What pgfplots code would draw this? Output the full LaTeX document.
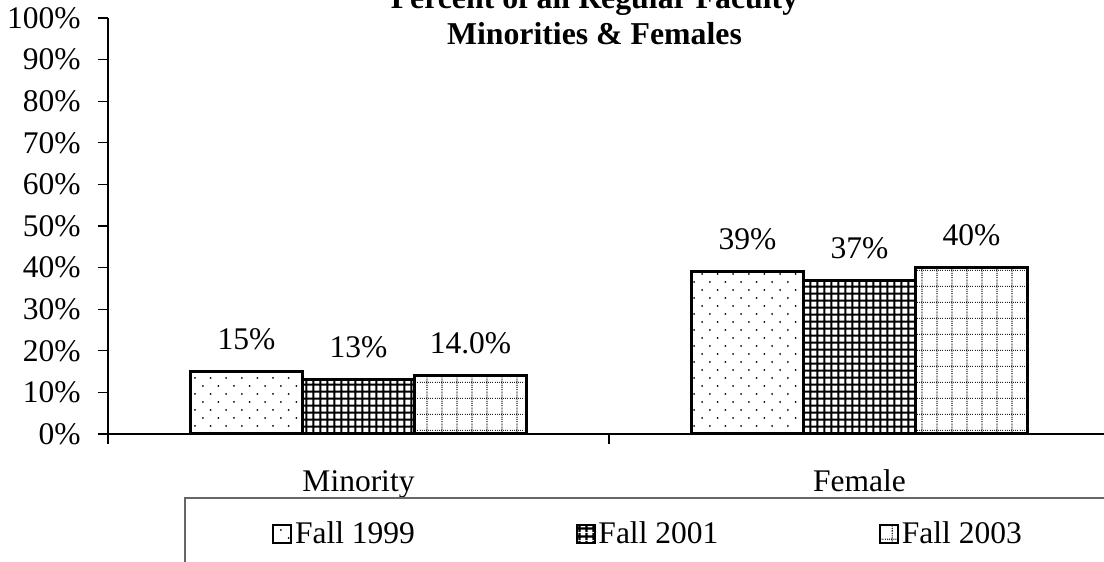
\documentclass[border=0pt]{standalone}
\usepackage{pgfplots}
\pgfplotsset{compat=1.18}
\usepackage{fontspec}
\setmainfont{Liberation Serif}
\usetikzlibrary{patterns}

\pgfdeclarepatternformonly{sparsedots}{\pgfqpoint{-1pt}{-1pt}}{\pgfqpoint{8.8pt}{9pt}}{\pgfqpoint{7.8pt}{8pt}}{%
  \pgfpathcircle{\pgfqpoint{0pt}{0pt}}{0.5pt}%
  \pgfpathcircle{\pgfqpoint{3.9pt}{4pt}}{0.5pt}%
  \pgfusepath{fill}}
\pgfdeclarepatternformonly{densegrid}{\pgfqpoint{0pt}{0pt}}{\pgfqpoint{3.7pt}{3.7pt}}{\pgfqpoint{3.7pt}{3.7pt}}{%
  \pgfsetlinewidth{1.1pt}%
  \pgfpathmoveto{\pgfqpoint{0pt}{1.85pt}}\pgfpathlineto{\pgfqpoint{3.7pt}{1.85pt}}%
  \pgfpathmoveto{\pgfqpoint{1.85pt}{0pt}}\pgfpathlineto{\pgfqpoint{1.85pt}{3.7pt}}%
  \pgfusepath{stroke}}
\pgfdeclarepatternformonly{dottedgrid}{\pgfqpoint{0pt}{0pt}}{\pgfqpoint{7.5pt}{7.8pt}}{\pgfqpoint{7.5pt}{7.8pt}}{%
  \pgfsetlinewidth{0.6pt}%
  \pgfsetdash{{0.5pt}{0.57pt}}{0pt}%
  \pgfpathmoveto{\pgfqpoint{0pt}{3.9pt}}\pgfpathlineto{\pgfqpoint{7.5pt}{3.9pt}}%
  \pgfpathmoveto{\pgfqpoint{3.75pt}{0pt}}\pgfpathlineto{\pgfqpoint{3.75pt}{7.8pt}}%
  \pgfusepath{stroke}}

\begin{document}
\begin{tikzpicture}
\path[use as bounding box] (0,0) rectangle (552pt,281pt);
\begin{axis}[
  at={(54pt,64pt)}, anchor=south west,
  scale only axis, width=501pt, height=208pt,
  xmin=-0.5, xmax=1.5, ymin=0, ymax=100,
  axis x line*=bottom, axis y line*=left,
  axis line style={black, line width=0.6pt, -},
  font=\fontsize{15.75}{18}\selectfont,
  ytick={0,10,...,100},
  yticklabel={\pgfmathprintnumber[assume math mode=true]{\tick}\%},
  yticklabel style={anchor=east, inner sep=0pt, xshift=-8.5pt},
  tick align=outside, major tick length=5pt,
  tick style={black, line width=0.6pt},
  xtick={-0.5,0.5,1.5}, xticklabels={},
  extra x ticks={0,1}, extra x tick labels={Minority,Female},
  extra x tick style={major tick length=0pt,
    xticklabel style={anchor=base, inner sep=0pt, yshift=-29pt}},
  ybar=0pt, bar width=56pt,
  title={Percent of all Regular Faculty\\Minorities \& Females},
  title style={font=\bfseries\fontsize{15.9}{18}\selectfont, align=center,
    at={(axis description cs:0.4855,1)}, anchor=base, yshift=-19.5pt, inner sep=0pt},
  nodes near coords, point meta=explicit symbolic,
  every node near coord/.append style={anchor=base, inner sep=0pt, yshift=11pt, font=\fontsize{15.75}{18}\selectfont},
  legend columns=3,
  legend style={draw=none, fill=none, inner sep=0pt,
    at={(axis description cs:0.1637,-0.2406)}, anchor=west,
    nodes={inner sep=1.5pt}, font=\fontsize{15.75}{18}\selectfont,
    /tikz/every even column/.append style={column sep=79pt}},
  legend image code/.code={\draw[#1, line width=0.8pt] (0pt,-4.5pt) rectangle (9pt,4.5pt);},
]
\addplot[draw=black, line width=1.5pt, fill=white, postaction={pattern=sparsedots, pattern color=black}]
  coordinates {(0,15)[15\%] (1,39)[39\%]};
\addlegendentry{Fall 1999}
\addplot[draw=black, line width=1.5pt, fill=white, postaction={pattern=densegrid, pattern color=black}]
  coordinates {(0,13)[13\%] (1,37)[37\%]};
\addlegendentry{Fall 2001}
\addplot[draw=black, line width=1.5pt, fill=white, postaction={pattern=dottedgrid, pattern color=black!85}]
  coordinates {(0,14)[14.0\%] (1,40)[40\%]};
\addlegendentry{Fall 2003}
\end{axis}
\draw[black!60, line width=0.6pt] (92.5pt,-5pt) -- (92.5pt,32pt) -- (560pt,32pt);
\end{tikzpicture}
\end{document}
